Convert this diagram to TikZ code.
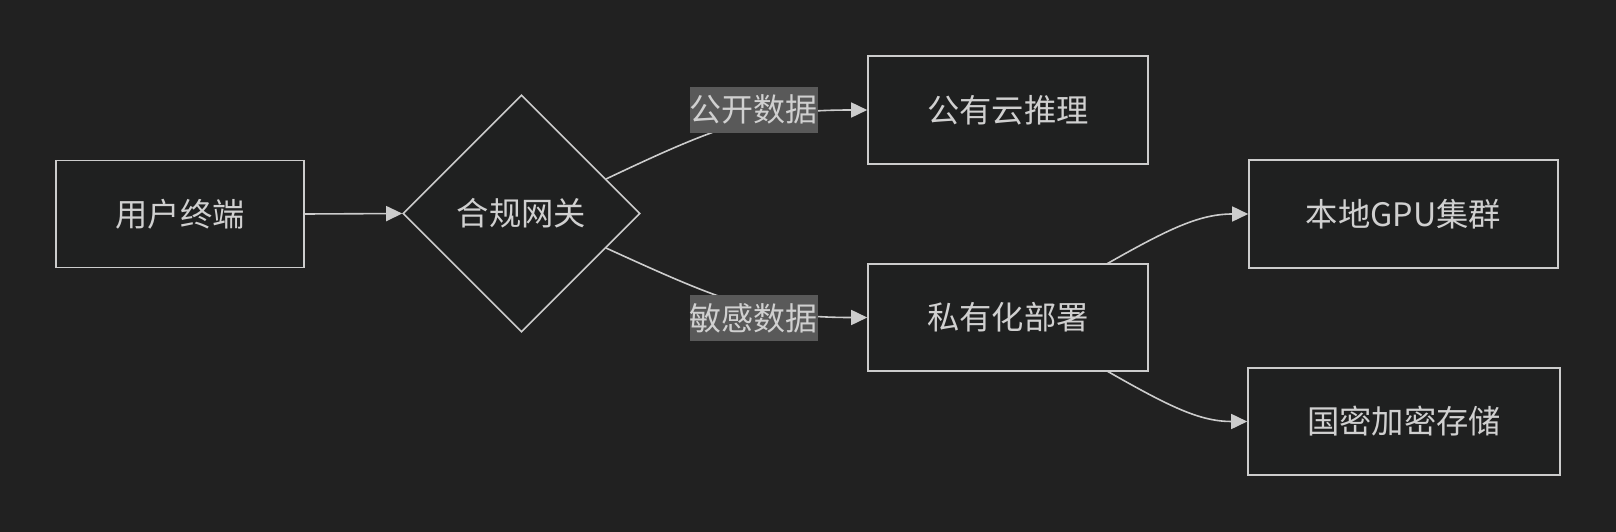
\documentclass[tikz,border=0pt]{standalone}
\usepackage{fontspec}
\newfontfamily\cjk{Noto Sans CJK SC}
\usetikzlibrary{shapes.geometric,arrows.meta,calc}
\definecolor{bgc}{HTML}{212121}
\definecolor{boxfill}{HTML}{1F2020}
\definecolor{linec}{HTML}{CCCCCC}
\definecolor{textc}{HTML}{D0D0D0}
\definecolor{lblfill}{HTML}{595959}
\tikzset{
  box/.style={draw=linec, line width=1.6pt, fill=boxfill, rectangle, inner sep=0pt,
    font=\cjk\fontsize{32.3}{37}\selectfont, text=textc, minimum height=107pt},
  decision/.style={draw=linec, line width=1.6pt, fill=boxfill, diamond, aspect=1, inner sep=0pt,
    minimum size=237pt, font=\cjk\fontsize{32.3}{37}\selectfont, text=textc},
  lbl/.style={fill=lblfill, inner sep=0pt, font=\cjk\fontsize{32}{37}\selectfont, text=textc,
    minimum width=127pt, minimum height=46pt},
  conn/.style={draw=linec, line width=1.6pt, -{Triangle[length=16pt,width=15pt]}},
  plain/.style={draw=linec, line width=1.6pt}
}
\begin{document}
\begin{tikzpicture}[x=1pt,y=-1pt]
\fill[bgc] (0,0) rectangle (1616,532);
\useasboundingbox (0,0) rectangle (1616,532);
\node[box, minimum width=248pt] (A) at (180,214) {用户终端};
\node[decision] (B) at (521.5,213.5) {合规网关};
\node[box, minimum width=280pt, minimum height=108pt] (C) at (1008,110) {公有云推理};
\node[box, minimum width=280pt] (D) at (1008,317.5) {私有化部署};
\node[box, minimum width=309pt, minimum height=108pt] (E) at (1403.5,214) {本地GPU集群};
\node[box, minimum width=312pt] (F) at (1404,421.5) {国密加密存储};
\coordinate (b1) at ($(B.north)!0.71!(B.east)$);
\coordinate (b2) at ($(B.south)!0.71!(B.east)$);
\coordinate (d1) at (1107,263.8);
\coordinate (d2) at (1107,371);
\draw[conn] (A.east) -- (B.west);
\draw[conn] (b1) .. controls (720,125) and (760,110) .. (C.west);
\draw[conn] (b2) .. controls (720,300) and (760,317.5) .. (D.west);
\draw[conn] (d1) .. controls (1170,228) and (1200,214) .. (E.west);
\draw[conn] (d2) .. controls (1170,407) and (1200,421.5) .. (F.west);
\node[lbl] (L1) at (753.7,109.8) {公开数据};
\node[lbl] (L2) at (753.7,318) {敏感数据};
\end{tikzpicture}
\end{document}
